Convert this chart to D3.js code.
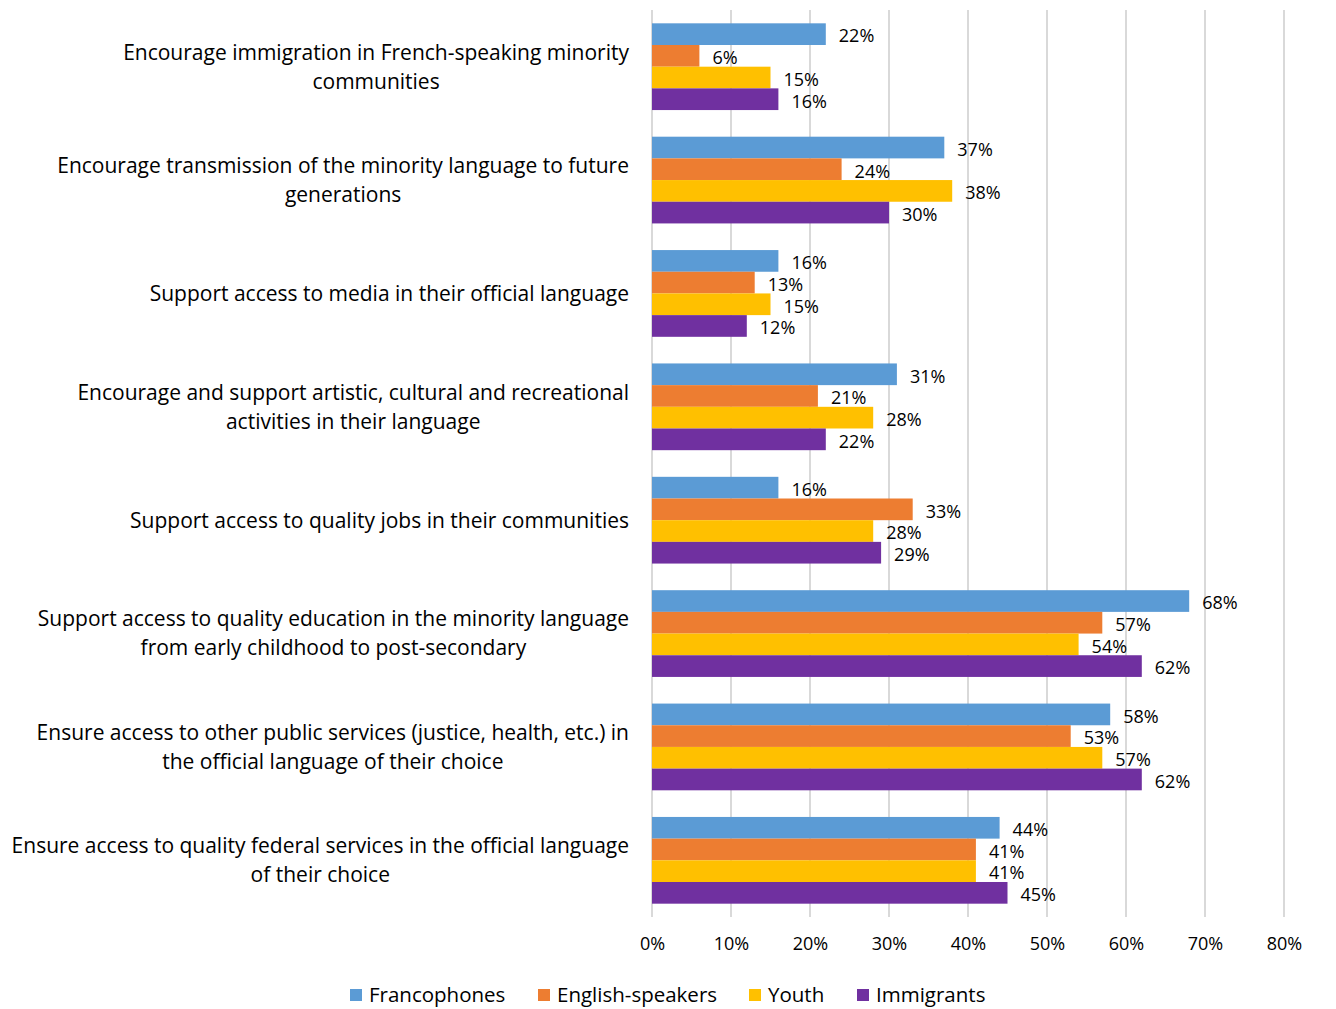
<!DOCTYPE html>
<html>
<head>
<meta charset="utf-8">
<script src="https://cdn.jsdelivr.net/npm/d3@7"></script>
<style>
  html, body { margin: 0; padding: 0; background: #fff; }
  svg { display: block; }
  text { font-family: "Open Sans", "Noto Sans", sans-serif; fill: #000; }
</style>
</head>
<body>
<svg id="chart" width="1336" height="1009"></svg>
<script>
// Priorities by group, shares of respondents (%)
const categories = [
  "Encourage immigration in French-speaking minority\ncommunities",
  "Encourage transmission of the minority language to future\ngenerations",
  "Support access to media in their official language",
  "Encourage and support artistic, cultural and recreational\nactivities in their language",
  "Support access to quality jobs in their communities",
  "Support access to quality education in the minority language\nfrom early childhood to post-secondary",
  "Ensure access to other public services (justice, health, etc.) in\nthe official language of their choice",
  "Ensure access to quality federal services in the official language\nof their choice"
];
const seriesNames = ["Francophones", "English-speakers", "Youth", "Immigrants"];
const francophones    = [22, 37, 16, 31, 16, 68, 58, 44];
const englishSpeakers = [6, 24, 13, 21, 33, 57, 53, 41];
const youth           = [15, 38, 15, 28, 28, 54, 57, 41];
const immigrants      = [16, 30, 12, 22, 29, 62, 62, 45];
const tickValues = [0, 10, 20, 30, 40, 50, 60, 70, 80];
const colors = ["#5B9BD5", "#ED7D31", "#FFC000", "#7030A0"];

const seriesValues = [francophones, englishSpeakers, youth, immigrants];
const rows = categories.map((c, i) => ({
  category: c,
  values: seriesNames.map((s, k) => ({ series: s, value: seriesValues[k][i] }))
}));

const svg = d3.select("#chart");
const plot = { left: 652, right: 1284, top: 10, bottom: 917 };

const x = d3.scaleLinear().domain([0, 80]).range([plot.left, plot.right]);
const y0 = d3.scaleBand().domain(categories).range([plot.top, plot.bottom])
  .paddingInner(0.235).paddingOuter(0.1175);
const y1 = d3.scaleBand().domain(seriesNames).range([0, y0.bandwidth()]);
const color = d3.scaleOrdinal().domain(seriesNames).range(colors);

// vertical gridlines
svg.append("g")
  .selectAll("line")
  .data(tickValues)
  .join("line")
  .attr("x1", d => x(d)).attr("x2", d => x(d))
  .attr("y1", plot.top).attr("y2", plot.bottom)
  .attr("stroke", "#D9D9D9").attr("stroke-width", 2);

// x axis tick labels
const xAxis = d3.axisBottom(x).tickValues(tickValues).tickFormat(d => d + "%").tickSize(0).tickPadding(0);
const ax = svg.append("g").attr("transform", `translate(0, ${plot.bottom + 27})`).call(xAxis);
ax.select(".domain").remove();
ax.selectAll("text").attr("font-size", 18).attr("font-family", null).attr("dy", "0.35em").attr("fill", "#000");

// bars
const groups = svg.append("g").selectAll("g")
  .data(rows)
  .join("g")
  .attr("transform", d => `translate(0, ${y0(d.category)})`);

groups.selectAll("rect")
  .data(d => d.values)
  .join("rect")
  .attr("x", x(0))
  .attr("y", d => y1(d.series))
  .attr("width", d => x(d.value) - x(0))
  .attr("height", y1.bandwidth())
  .attr("fill", d => color(d.series));

groups.selectAll("text.val")
  .data(d => d.values)
  .join("text")
  .attr("class", "val")
  .attr("x", d => x(d.value) + 13)
  .attr("y", d => y1(d.series) + y1.bandwidth() / 2 + 2)
  .attr("dy", "0.35em")
  .attr("font-size", 18)
  .text(d => d.value + "%");

// category labels: block right-aligned to the axis, each line centred in the block
const labelRight = 629;
const lineH = 29;
const catG = svg.append("g");
rows.forEach(r => {
  const lines = r.category.split("\n");
  const cy = y0(r.category) + y0.bandwidth() / 2;
  const t = catG.append("text").attr("font-size", 21).attr("text-anchor", "middle");
  const spans = lines.map((ln, i) =>
    t.append("tspan").attr("x", 0)
      .attr("y", cy + (i - (lines.length - 1) / 2) * lineH)
      .attr("dy", "0.35em").text(ln));
  const w = d3.max(spans, s => s.node().getComputedTextLength());
  t.selectAll("tspan").attr("x", labelRight - w / 2);
});

// legend
const legend = svg.append("g").attr("transform", "translate(0, 995)");
const legX = [350, 538, 749, 857];
seriesNames.forEach((s, i) => {
  const g = legend.append("g").attr("transform", `translate(${legX[i]}, 0)`);
  g.append("rect").attr("x", 0).attr("y", -6).attr("width", 12).attr("height", 12).attr("fill", color(s));
  g.append("text").attr("x", 19).attr("y", 0).attr("dy", "0.35em").attr("font-size", 20.5).text(s);
});
</script>
</body>
</html>
